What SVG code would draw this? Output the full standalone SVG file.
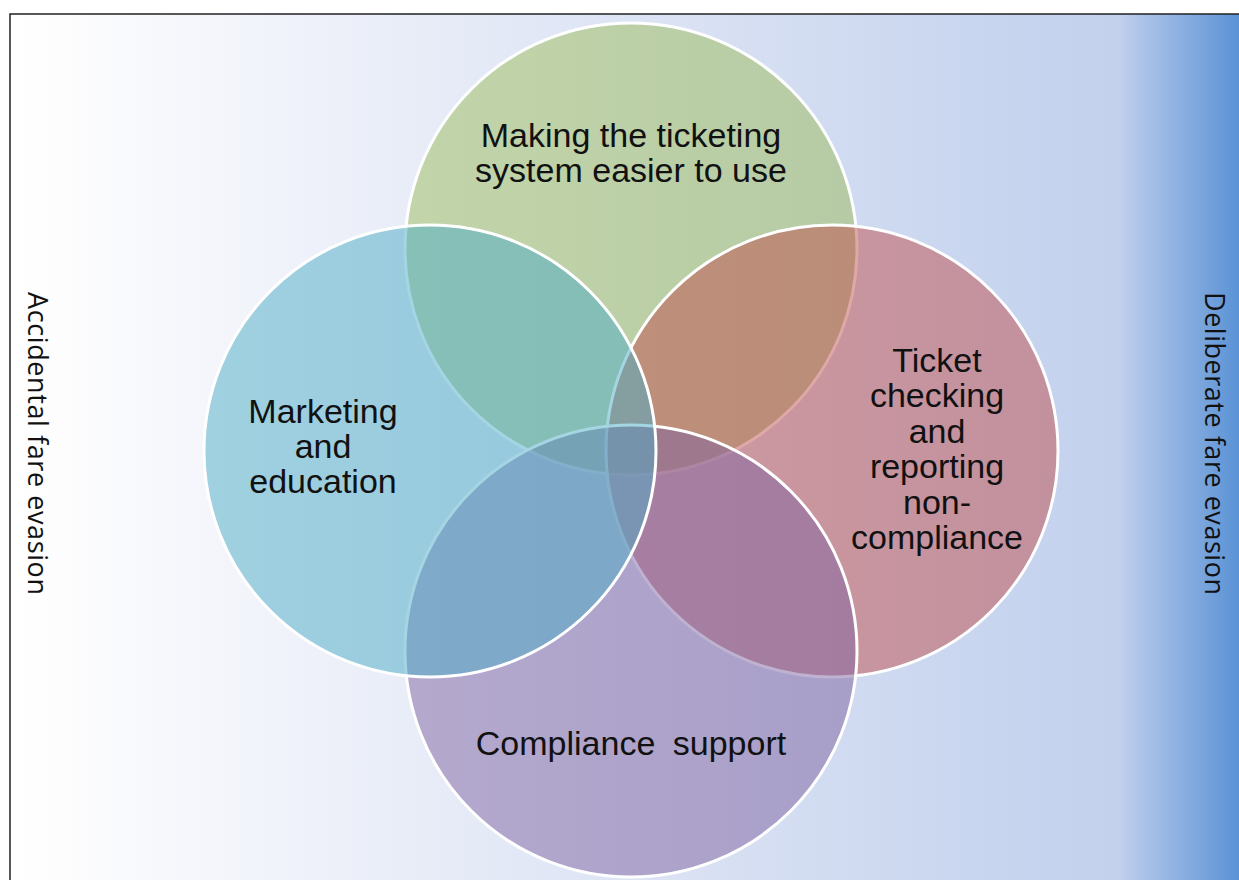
<svg xmlns="http://www.w3.org/2000/svg" width="1239" height="880" viewBox="0 0 1239 880">
<defs>
<linearGradient id="bg" gradientUnits="userSpaceOnUse" x1="10" y1="0" x2="1239" y2="0">
<stop offset="0" stop-color="#ffffff"/>
<stop offset="0.04" stop-color="#fdfdfe"/>
<stop offset="0.32" stop-color="#e9edf8"/>
<stop offset="0.56" stop-color="#d9e1f3"/>
<stop offset="0.80" stop-color="#c8d5ef"/>
<stop offset="0.902" stop-color="#c3d1ed"/>
<stop offset="0.915" stop-color="#b3c7ea"/>
<stop offset="1" stop-color="#5a92d5"/>
</linearGradient>
<style>
.c{stroke:#ffffff;stroke-width:3;fill-opacity:0.5}
.t{font-family:"Liberation Sans",Arial,sans-serif;font-size:34px;fill:#111111;text-anchor:middle}
.s{font-family:"Open Sans","Noto Sans",sans-serif;font-size:27px;fill:#111111;text-anchor:middle}
</style>
</defs>
<rect x="0" y="0" width="1239" height="880" fill="#ffffff"/>
<rect x="10" y="14" width="1240" height="880" fill="url(#bg)" stroke="#222222" stroke-width="1.5"/>
<g id="label-accidental">
<text class="s" transform="translate(28,443.5) rotate(90)" textLength="303" lengthAdjust="spacing">Accidental fare evasion</text>
</g>
<g id="label-deliberate">
<text class="s" transform="translate(1205,443.5) rotate(90)" textLength="303" lengthAdjust="spacing">Deliberate fare evasion</text>
</g>
<g id="node-ticketing">
<circle class="c" cx="631" cy="249" r="226" fill="#9bbb59"/>
</g>
<g id="node-checking">
<circle class="c" cx="832" cy="451" r="226" fill="#c0504d"/>
</g>
<g id="node-compliance">
<circle class="c" cx="631" cy="651" r="226" fill="#8064a2"/>
</g>
<g id="node-marketing">
<circle class="c" cx="430" cy="451" r="226" fill="#4bacc6"/>
</g>
<g id="connectors"></g>
<g id="labels">
<text class="t" x="631" y="147">Making the ticketing</text>
<text class="t" x="631" y="182">system easier to use</text>
<text class="t" x="323" y="423">Marketing</text>
<text class="t" x="323" y="458">and</text>
<text class="t" x="323" y="493">education</text>
<text class="t" x="937" y="372">Ticket</text>
<text class="t" x="937" y="407.4">checking</text>
<text class="t" x="937" y="442.8">and</text>
<text class="t" x="937" y="478.2">reporting</text>
<text class="t" x="937" y="513.6">non-</text>
<text class="t" x="937" y="549">compliance</text>
<text class="t" x="631" y="755" word-spacing="8">Compliance support</text>
</g>
</svg>
